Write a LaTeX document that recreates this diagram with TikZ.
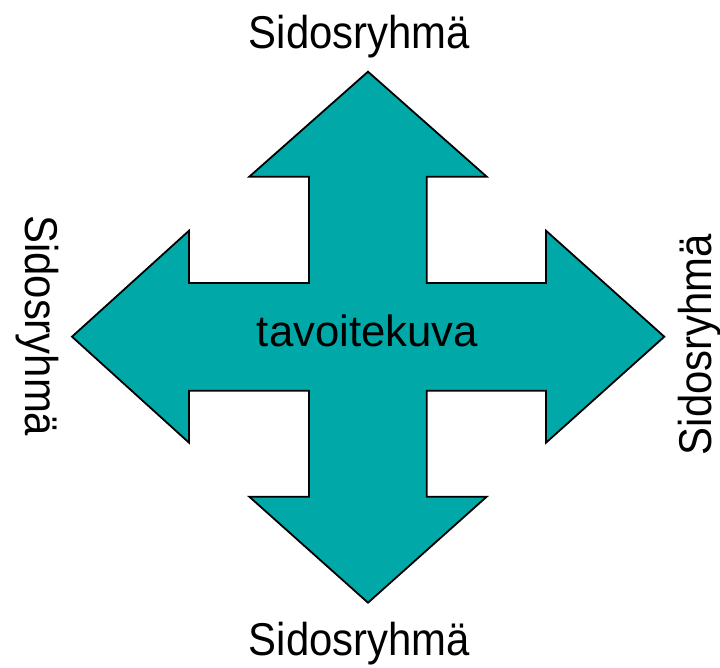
\documentclass[tikz,border=0pt]{standalone}
\usepackage{fontspec}
\setmainfont{Liberation Sans}
\newfontfamily\sidosfont[FakeStretch=0.91]{Liberation Sans}
\definecolor{crossteal}{HTML}{00A8A8}
\tikzset{
  crossshape/.style={fill=crossteal, draw=black, line width=1.8pt, line join=miter},
  sidoslabel/.style={font=\sidosfont\fontsize{46}{50}\selectfont, anchor=base, inner sep=0pt},
  centerlabel/.style={font=\fontsize{43.7}{48}\selectfont, anchor=base, inner sep=0pt}
}
\begin{document}
\begin{tikzpicture}[x=1pt,y=1pt]
  \useasboundingbox (0,0) rectangle (720,667);
  % four-way arrow
  \draw[crossshape]
    (368,595.3) -- (486.7,490.3) -- (426.7,490.3) -- (426.7,384)
    -- (546,384) -- (546,436.3) -- (664.3,330.3) -- (546,224.3)
    -- (546,276.3) -- (426.7,276.3) -- (426.7,170.3) -- (486.7,170.3)
    -- (368,64.3) -- (249.3,170.3) -- (309,170.3) -- (309,276.3)
    -- (189,276.3) -- (189,224.3) -- (72,330.3) -- (189,436.3)
    -- (189,384) -- (309,384) -- (309,490.3) -- (249.3,490.3) -- cycle;
  % labels
  \node[centerlabel] (goal) at (367.5,320.3) {tavoitekuva};
  \node[sidoslabel] (top) at (359.5,618.7) {Sidosryhmä};
  \node[sidoslabel] (bottom) at (359.5,12) {Sidosryhmä};
  \node[sidoslabel, rotate=-90] (left) at (25,341.2) {Sidosryhmä};
  \node[sidoslabel, rotate=90] (right) at (711.7,322.5) {Sidosryhmä};
\end{tikzpicture}
\end{document}
